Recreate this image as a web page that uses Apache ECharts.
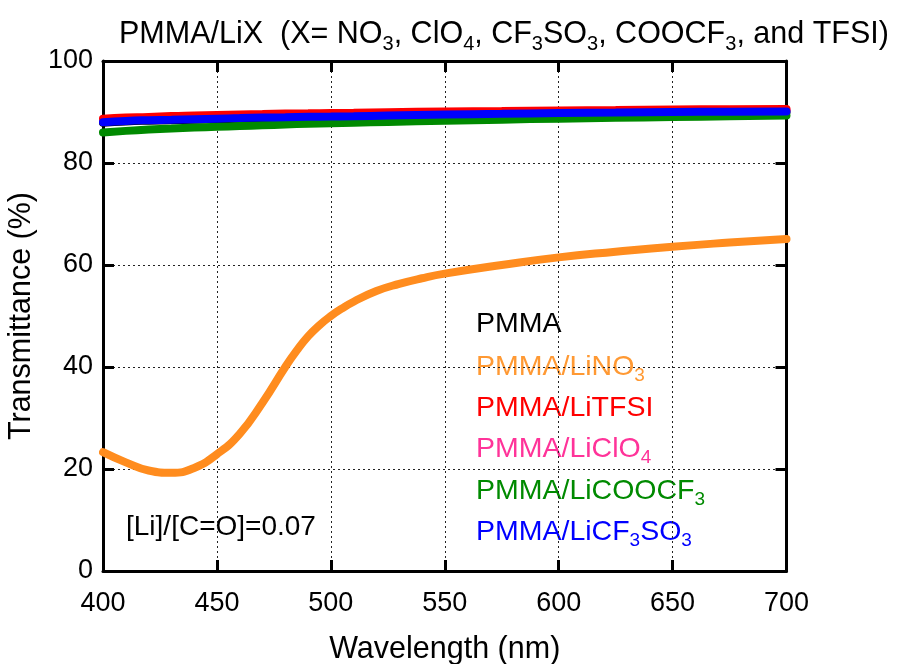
<!DOCTYPE html>
<html>
<head>
<meta charset="utf-8">
<title>PMMA/LiX transmittance</title>
<script src="https://cdn.jsdelivr.net/npm/echarts@6/dist/echarts.min.js"></script>
<style>
  html, body { margin: 0; padding: 0; background: #fff; }
  #chart { width: 898px; height: 664px; }
</style>
</head>
<body>
<div id="chart"></div>
<script>
// Wavelength grid (nm) for the flat, high-transmittance films
const wavelengths = [400, 410, 420, 430, 440, 450, 460, 470, 480, 490, 500, 510, 525, 550, 575, 600, 625, 650, 675, 700];

// Transmittance (%) of each film on that grid
const pmma      = [87.9, 88.15, 88.3, 88.4, 88.5, 88.6, 88.7, 88.8, 88.85, 88.9, 89.0, 89.05, 89.15, 89.4, 89.55, 89.7, 89.8, 89.9, 89.95, 90.0];
const liTFSI    = [88.7, 88.9, 89.0, 89.2, 89.3, 89.4, 89.5, 89.6, 89.7, 89.75, 89.8, 89.85, 89.95, 90.1, 90.2, 90.3, 90.4, 90.5, 90.55, 90.6];
const liClO4    = [88.3, 88.55, 88.7, 88.85, 88.95, 89.05, 89.15, 89.25, 89.3, 89.4, 89.45, 89.5, 89.6, 89.8, 89.9, 90.05, 90.15, 90.25, 90.3, 90.35];
const liCOOCF3  = [86.0, 86.3, 86.55, 86.75, 86.95, 87.1, 87.25, 87.4, 87.55, 87.7, 87.8, 87.9, 88.05, 88.3, 88.5, 88.7, 88.85, 89.0, 89.15, 89.3];
const liCF3SO3  = [88.0, 88.25, 88.4, 88.5, 88.6, 88.7, 88.8, 88.9, 88.95, 89.05, 89.1, 89.15, 89.3, 89.5, 89.65, 89.8, 89.9, 90.0, 90.05, 90.1];

// LiNO3 film: finer wavelength grid through the absorption dip and the rise
const wavelengthsNO3 = [400, 410, 420, 430, 440, 450, 460, 470, 480, 485, 490, 495, 500, 505, 510, 520, 530, 540, 550, 575, 600, 625, 650, 675, 700];
const liNO3          = [23.3, 21.3, 19.7, 19.25, 20.2, 22.9, 26.9, 33.0, 40.0, 43.2, 46.0, 48.2, 50.0, 51.5, 52.8, 54.9, 56.3, 57.4, 58.3, 60.0, 61.5, 62.6, 63.6, 64.4, 65.1];

// Axis ticks
const xTicks = [400, 450, 500, 550, 600, 650, 700];
const yTicks = [0, 20, 40, 60, 80, 100];

const FONT = '"Liberation Sans", Arial, sans-serif';
const pair = (xs, ys) => xs.map((w, i) => [w, ys[i]]);

const subStyle = (color, size) => ({
  fontSize: size, fontFamily: FONT, color: color,
  verticalAlign: 'bottom', lineHeight: size
});

function legendText(y, text, color) {
  return {
    type: 'text', left: 476, top: y,
    style: {
      text: text, fill: color, font: '28.5px ' + FONT,
      rich: {
        n: { fontSize: 28.5, fontFamily: FONT, color: color, lineHeight: 36 },
        s: subStyle(color, 19)
      }
    }
  };
}

const seriesDefs = [
  { name: 'PMMA', xs: wavelengths, data: pmma, color: '#000000' },
  { name: 'PMMA/LiNO3', xs: wavelengthsNO3, data: liNO3, color: '#ff8c1e' },
  { name: 'PMMA/LiClO4', xs: wavelengths, data: liClO4, color: '#ff3399' },
  { name: 'PMMA/LiCOOCF3', xs: wavelengths, data: liCOOCF3, color: '#008a00' },
  { name: 'PMMA/LiTFSI', xs: wavelengths, data: liTFSI, color: '#ff0000' },
  { name: 'PMMA/LiCF3SO3', xs: wavelengths, data: liCF3SO3, color: '#0000ff' }
];

const axisCommon = {
  type: 'value',
  axisLine: { show: true, onZero: false, lineStyle: { color: '#000', width: 3 } },
  axisTick: { show: true, inside: true, length: 11, lineStyle: { color: '#000', width: 3 } }
};

const chart = echarts.init(document.getElementById('chart'), null, { renderer: 'canvas' });

chart.setOption({
  animation: false,
  backgroundColor: '#ffffff',
  title: {
    text: '{n|PMMA/LiX  (X= NO}{s|3}{n|, ClO}{s|4}{n|, CF}{s|3}{n|SO}{s|3}{n|, COOCF}{s|3}{n|, and TFSI)}',
    left: 114, top: 11,
    textStyle: {
      fontSize: 30.5, fontWeight: 'normal', fontFamily: FONT, color: '#000',
      rich: {
        n: { fontSize: 30.5, fontFamily: FONT, color: '#000', lineHeight: 38 },
        s: subStyle('#000', 20)
      }
    }
  },
  grid: {
    left: 103, right: 111.5, top: 61, bottom: 93,
    containLabel: false, outerBoundsMode: 'none'
  },
  xAxis: [
    Object.assign({}, axisCommon, {
      min: xTicks[0], max: xTicks[xTicks.length - 1], interval: 50,
      position: 'bottom',
      name: 'Wavelength (nm)', nameLocation: 'middle', nameGap: 63,
      nameTextStyle: { fontSize: 30.5, fontFamily: FONT, color: '#000' },
      axisLabel: { fontSize: 27, fontFamily: FONT, color: '#000', margin: 19 },
      splitLine: { show: true, lineStyle: { color: '#222', width: 1, type: [2, 3] } }
    }),
    Object.assign({}, axisCommon, {
      min: xTicks[0], max: xTicks[xTicks.length - 1], interval: 50,
      position: 'top', axisLabel: { show: false }, splitLine: { show: false }
    })
  ],
  yAxis: [
    Object.assign({}, axisCommon, {
      min: yTicks[0], max: yTicks[yTicks.length - 1], interval: 20,
      position: 'left',
      name: 'Transmittance (%)', nameLocation: 'middle', nameGap: 59,
      nameTextStyle: { fontSize: 30.5, fontFamily: FONT, color: '#000' },
      axisLabel: { fontSize: 27, fontFamily: FONT, color: '#000', margin: 10 },
      splitLine: { show: true, lineStyle: { color: '#222', width: 1, type: [2, 3] } }
    }),
    Object.assign({}, axisCommon, {
      min: yTicks[0], max: yTicks[yTicks.length - 1], interval: 20,
      position: 'right', axisLabel: { show: false }, splitLine: { show: false }
    })
  ],
  series: seriesDefs.map((s) => ({
    name: s.name,
    type: 'line',
    xAxisIndex: 0, yAxisIndex: 0,
    smooth: 0.5,
    showSymbol: false,
    data: pair(s.xs, s.data),
    lineStyle: { color: s.color, width: 8, cap: 'round' },
    itemStyle: { color: s.color }
  })),
  graphic: [
    legendText(310, '{n|PMMA}', '#000000'),
    legendText(353, '{n|PMMA/LiNO}{s|3}', '#ff9933'),
    legendText(394, '{n|PMMA/LiTFSI}', '#ff0000'),
    legendText(435, '{n|PMMA/LiClO}{s|4}', '#ff3399'),
    legendText(477, '{n|PMMA/LiCOOCF}{s|3}', '#008a00'),
    legendText(518, '{n|PMMA/LiCF}{s|3}{n|SO}{s|3}', '#0000ff'),
    {
      type: 'text', left: 126, top: 513,
      style: { text: '[Li]/[C=O]=0.07', fill: '#000', font: '28px ' + FONT }
    }
  ]
});
</script>
</body>
</html>
